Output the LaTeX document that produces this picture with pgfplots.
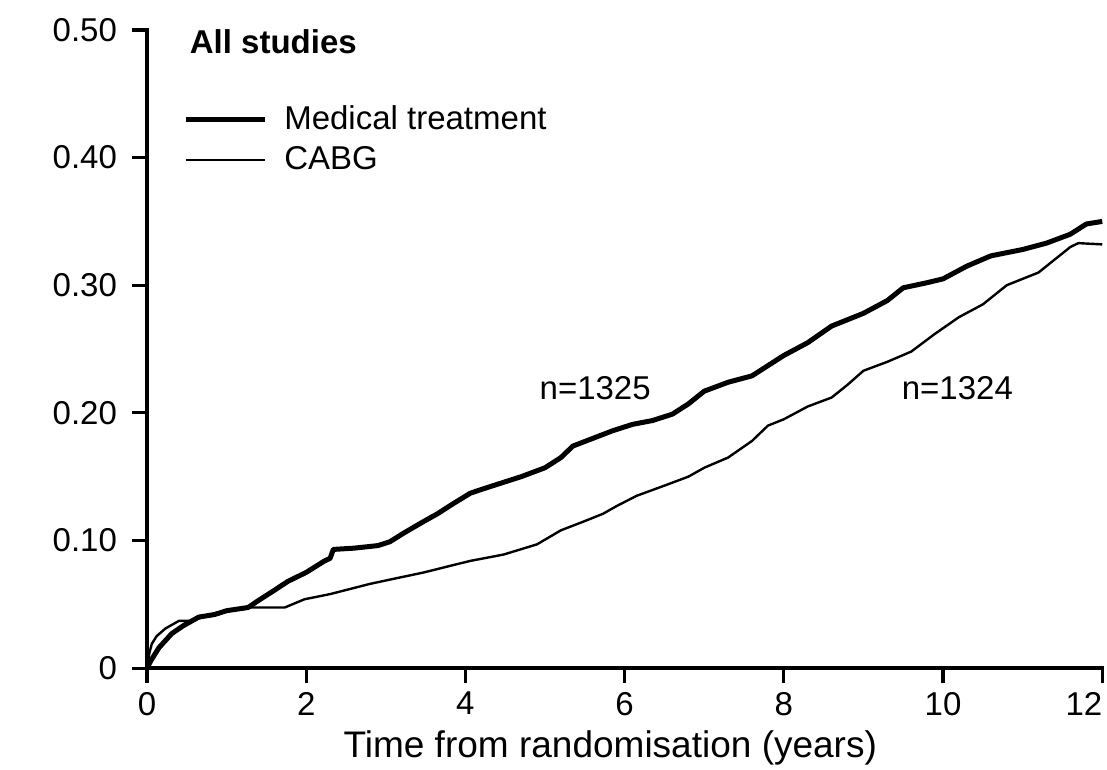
\documentclass[border=0pt]{standalone}
\usepackage{fontspec}
\setmainfont{Liberation Sans}
\usepackage{pgfplots}
\pgfplotsset{compat=1.18}
\begin{document}
\begin{tikzpicture}
\begin{axis}[
  scale only axis,
  width=477.5pt, height=319pt,
  xmin=0, xmax=12, ymin=0, ymax=0.5,
  clip=false,
  axis x line*=bottom, axis y line*=left,
  axis line style={-, line width=2.2pt, line cap=rect},
  every outer x axis line/.append style={line width=2.2pt},
  every outer y axis line/.append style={line width=2.2pt},
  tick align=outside,
  major tick style={black, line width=1.6pt},
  major tick length=7.5pt,
  xtick={0,2,4,6,8,10,12},
  xticklabels={0,2,4,6,8,10,\makebox[0pt][r]{12}},
  ytick={0,0.1,0.2,0.3,0.4,0.5},
  yticklabels={0,0.10,0.20,0.30,0.40,0.50},
  /pgf/number format/assume math mode=true,
  tick label style={font=\fontsize{16.5}{19}\selectfont},
  yticklabel style={xshift=-4pt},
  xticklabel style={yshift=-1pt},
  legend style={draw=none, fill=none, at={(axis cs:0.45,0.444)}, anchor=north west,
     font=\fontsize{16.5}{19}\selectfont, row sep=3pt, inner sep=0pt},
  legend cell align=left,
  legend image code/.code={\draw[#1] (0pt,0pt) -- (39.5pt,0pt); \path (46pt,0pt);},
]
\addplot[black, line width=2.5pt, line join=round] coordinates {
(0,0) (0.05,0.006) (0.15,0.016) (0.31,0.027) (0.45,0.033) (0.65,0.040)
(0.85,0.042) (1.0,0.045) (1.27,0.0475) (1.4,0.053) (1.6,0.061) (1.77,0.068)
(2.0,0.075) (2.23,0.084) (2.3,0.086) (2.34,0.093) (2.6,0.094) (2.9,0.096)
(3.05,0.099) (3.23,0.106) (3.45,0.114) (3.65,0.121) (3.85,0.129) (4.06,0.137)
(4.2,0.140) (4.4,0.144) (4.7,0.150) (5.0,0.157) (5.2,0.165) (5.35,0.174)
(5.6,0.180) (5.85,0.186) (6.1,0.191) (6.35,0.194) (6.6,0.199) (6.8,0.207)
(7.0,0.217) (7.3,0.224) (7.6,0.229) (7.8,0.237) (8.0,0.245) (8.3,0.255)
(8.6,0.268) (9.0,0.278) (9.3,0.288) (9.5,0.298) (9.8,0.302) (10.0,0.305)
(10.3,0.315) (10.6,0.323) (11.0,0.328) (11.3,0.333) (11.6,0.340) (11.8,0.348)
(12.0,0.350)
};
\addlegendentry{Medical treatment}
\addplot[black, line width=1.2pt, line join=round] coordinates {
(0,0) (0.03,0.012) (0.06,0.019) (0.12,0.025) (0.23,0.031) (0.4,0.037) (0.56,0.037)
(0.7,0.040) (0.85,0.043) (1.0,0.045) (1.27,0.0475) (1.73,0.0475) (1.98,0.054)
(2.3,0.058) (2.8,0.066) (3.1,0.070) (3.48,0.075) (3.8,0.080) (4.06,0.084)
(4.48,0.089) (4.9,0.097) (5.2,0.108) (5.45,0.114) (5.73,0.121) (5.9,0.127)
(6.15,0.135) (6.5,0.143) (6.8,0.150) (7.0,0.157) (7.3,0.165) (7.6,0.178)
(7.8,0.190) (8.0,0.195) (8.3,0.205) (8.6,0.212) (8.8,0.222) (9.0,0.233)
(9.3,0.240) (9.6,0.248) (9.9,0.262) (10.2,0.275) (10.5,0.285) (10.8,0.300)
(11.0,0.305) (11.2,0.310) (11.4,0.320) (11.6,0.330) (11.7,0.333) (12.0,0.332)
};
\addlegendentry{CABG}
\node[anchor=west, font=\fontsize{16.5}{19}\selectfont\bfseries] at (axis cs:0.45,0.491) {All studies};
\node[font=\fontsize{16.5}{19}\selectfont] at (axis cs:5.63,0.219) {n=1325};
\node[font=\fontsize{16.5}{19}\selectfont] at (axis cs:10.18,0.219) {n=1324};
\node[anchor=base, font=\fontsize{18.5}{21}\selectfont] at (axis cs:5.82,-0.0698) {Time from randomisation (years)};
\coordinate (bl) at (axis cs:-1.847,-0.0792);
\coordinate (tr) at (axis cs:12.06,0.5235);
\end{axis}
\pgfresetboundingbox
\path[use as bounding box] (bl) rectangle (tr);
\end{tikzpicture}
\end{document}
